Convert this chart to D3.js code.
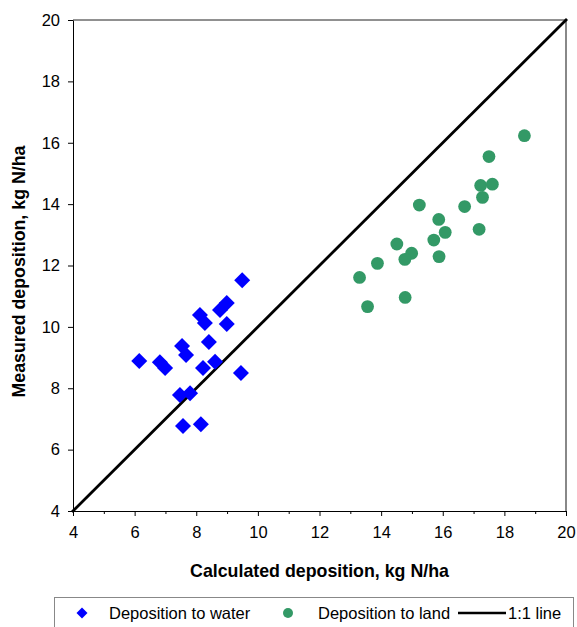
<!DOCTYPE html>
<html>
    <head>
        <meta charset="utf-8">
        <style>
            html, body {
                margin: 0px;
                padding: 0px;
                background-color: #fff;
                font-family: "Liberation Sans", Arial, sans-serif;
            }

            svg text {
                fill: #000;
            }

            .axis text {
                font-size: 16.5px;
            }

            .axis .domain, .axis line {
                stroke: #000;
            }

            .title {
                font-size: 17.8px;
                font-weight: bold;
            }

            .legend text {
                font-size: 16.5px;
            }
        </style>
        <script src="https://cdn.jsdelivr.net/npm/d3@7"></script>
    </head>
    <body>
        <div id="main"></div>

        <script>
            // calculated (x) and measured (y) deposition, kg N/ha
            var waterX = [6.15, 6.82, 6.99, 7.54, 7.67, 8.12, 8.28, 8.41, 8.77, 8.99, 8.99, 9.49, 8.61, 8.22, 9.45, 7.47, 7.80, 7.57, 8.15];
            var waterY = [8.89, 8.85, 8.66, 9.38, 9.08, 10.39, 10.13, 9.51, 10.55, 10.78, 10.09, 11.52, 8.86, 8.66, 8.50, 7.78, 7.84, 6.77, 6.83];
            var landX = [18.65, 17.50, 17.23, 17.61, 17.29, 15.24, 16.71, 15.87, 16.08, 17.18, 15.71, 14.51, 14.99, 14.77, 15.88, 13.88, 13.30, 14.78, 13.56];
            var landY = [16.23, 15.55, 14.61, 14.65, 14.22, 13.97, 13.92, 13.50, 13.08, 13.18, 12.83, 12.70, 12.40, 12.20, 12.29, 12.07, 11.61, 10.96, 10.66];
            var lineXY = [4, 20];
            var ticks = [4, 6, 8, 10, 12, 14, 16, 18, 20];
            var minorTicks = [5, 7, 9, 11, 13, 15, 17, 19];
            var legendLabels = ["Deposition to water", "Deposition to land", "1:1 line"];

            var width = 577;
            var height = 627;
            var margin = {top: 20, right: 11, bottom: 116, left: 73};
            var blue = "#0000ff";
            var green = "#339966";

            var svg = d3.select("#main")
                        .append("svg")
                        .attr("width", width)
                        .attr("height", height);

            var x = d3.scaleLinear().domain([4, 20]).range([margin.left, width - margin.right]);
            var y = d3.scaleLinear().domain([4, 20]).range([height - margin.bottom, margin.top]);

            // plot frame (top and right)
            svg.append("line")
                .attr("x1", x(4)).attr("x2", x(20))
                .attr("y1", y(20)).attr("y2", y(20))
                .attr("stroke", "#222").attr("stroke-width", 1);
            svg.append("line")
                .attr("x1", x(20)).attr("x2", x(20))
                .attr("y1", y(20)).attr("y2", y(4))
                .attr("stroke", "#888").attr("stroke-width", 2);

            // minor x ticks
            svg.append("g")
                .attr("class", "axis")
                .attr("transform", "translate(0," + y(4) + ")")
                .call(d3.axisBottom(x).tickValues(minorTicks).tickSize(3).tickFormat(""))
                .select(".domain").remove();

            svg.append("g")
                .attr("class", "axis")
                .attr("transform", "translate(0," + y(4) + ")")
                .call(d3.axisBottom(x).tickValues(ticks).tickSize(5).tickPadding(10).tickSizeOuter(0));

            svg.append("g")
                .attr("class", "axis")
                .attr("transform", "translate(" + x(4) + ",0)")
                .call(d3.axisLeft(y).tickValues(ticks).tickSize(5).tickPadding(8).tickSizeOuter(0));

            svg.selectAll(".axis text").attr("font-family", null);

            // 1:1 line
            svg.append("line")
                .attr("x1", x(lineXY[0])).attr("y1", y(lineXY[0]))
                .attr("x2", x(lineXY[1])).attr("y2", y(lineXY[1]))
                .attr("stroke", "#000")
                .attr("stroke-width", 2.8)
                .attr("stroke-linecap", "square");

            var diamond = "M0,-8L8,0L0,8L-8,0Z";

            svg.append("g").selectAll("path")
                .data(waterX)
                .enter()
                .append("path")
                .attr("d", diamond)
                .attr("fill", blue)
                .attr("transform", function(d, i) { return "translate(" + x(d) + "," + y(waterY[i]) + ")"; });

            svg.append("g").selectAll("circle")
                .data(landX)
                .enter()
                .append("circle")
                .attr("cx", function(d) { return x(d); })
                .attr("cy", function(d, i) { return y(landY[i]); })
                .attr("r", 6.4)
                .attr("fill", green);

            svg.append("text")
                .attr("class", "title")
                .attr("x", (x(4) + x(20)) / 2)
                .attr("y", 577)
                .style("text-anchor", "middle")
                .text("Calculated deposition, kg N/ha");

            svg.append("text")
                .attr("class", "title")
                .attr("transform", "translate(25," + ((y(4) + y(20)) / 2 + 6) + ") rotate(-90)")
                .style("text-anchor", "middle")
                .text("Measured deposition, kg N/ha");

            // legend
            var legend = svg.append("g").attr("class", "legend");
            legend.append("rect")
                .attr("x", 54.5).attr("y", 597.5)
                .attr("width", 519).attr("height", 50)
                .attr("fill", "#fff")
                .attr("stroke", "#888");

            legend.append("path")
                .attr("d", "M0,-5.5L5.5,0L0,5.5L-5.5,0Z")
                .attr("fill", blue)
                .attr("transform", "translate(82,613)");
            legend.append("circle")
                .attr("cx", 288).attr("cy", 613).attr("r", 5)
                .attr("fill", green);
            legend.append("line")
                .attr("x1", 458).attr("x2", 506)
                .attr("y1", 613).attr("y2", 613)
                .attr("stroke", "#000").attr("stroke-width", 2.5);

            legend.selectAll("text")
                .data(legendLabels)
                .enter()
                .append("text")
                .attr("x", function(d, i) { return [109, 318, 508][i]; })
                .attr("y", 619)
                .text(function(d) { return d; });
        </script>
    </body>
</html>
